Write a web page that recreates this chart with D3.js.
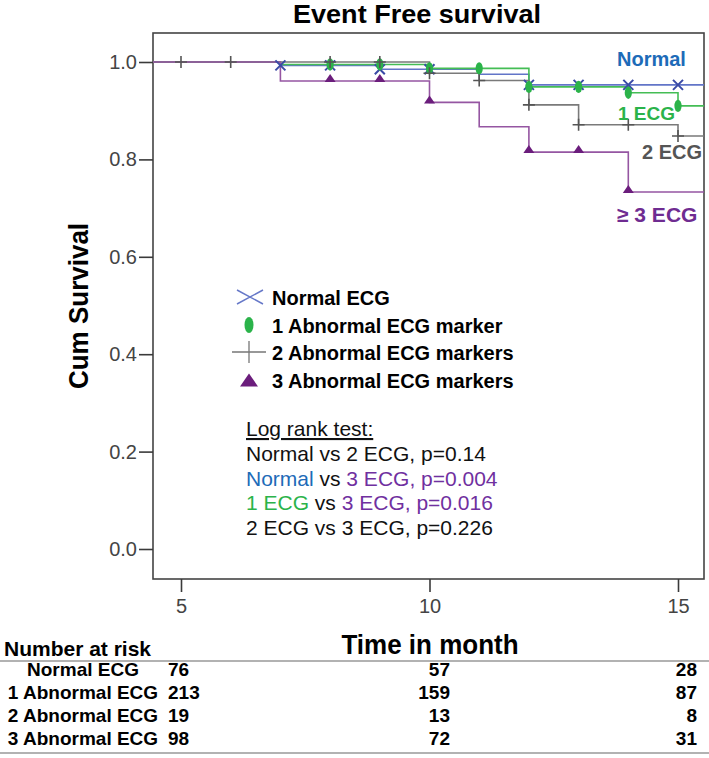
<!DOCTYPE html>
<html><head><meta charset="utf-8">
<script src="https://cdn.jsdelivr.net/npm/d3@7"></script>
<style>body{margin:0;background:#fff} text{font-family:"Liberation Sans",Arial,sans-serif}</style>
</head><body><svg id="c" width="709" height="758"></svg>
<script>
// ---------- data ----------
const groupNames = ["Normal ECG","1 Abnormal ECG marker","2 Abnormal ECG markers","3 Abnormal ECG markers"];
const endLabels = ["Normal","1 ECG","2 ECG","\u2265 3 ECG"];
const normalTimes = [0,7,9,11,12];
const normalSurv  = [1,0.993,0.985,0.975,0.953];
const normalCensor = [7,8,9,10,12,13,14,15];
const ecg1Times = [0,7,10,12,14,15];
const ecg1Surv  = [1,0.995,0.987,0.949,0.937,0.910];
const ecg1Censor = [8,9,10,11,12,13,14,15];
const ecg2Times = [0,10,11,12,13,15];
const ecg2Surv  = [1,0.977,0.962,0.912,0.871,0.848];
const ecg2Censor = [5,6,8,9,10,11,12,13,14,15];
const ecg3Times = [0,7,10,11,12,14];
const ecg3Surv  = [1,0.961,0.917,0.867,0.815,0.733];
const ecg3Censor = [8,9,10,12,13,14];
const yTicks = [0,0.2,0.4,0.6,0.8,1.0];
const xTicks = [5,10,15];
const riskRows = ["Normal ECG","1 Abnormal ECG","2 Abnormal ECG","3 Abnormal ECG"];
const riskAt5  = [76,213,19,98];
const riskAt10 = [57,159,13,72];
const riskAt15 = [28,87,8,31];
const logRankTitle = "Log rank test:";
const logRankLines = [
  [["Normal vs 2 ECG, p=0.14","k"]],
  [["Normal","b"],[" vs ","k"],["3 ECG, p=0.004","p"]],
  [["1 ECG","g"],[" vs ","k"],["3 ECG, p=0.016","p"]],
  [["2 ECG vs 3 ECG, p=0.226","k"]]
];

// ---------- setup ----------
const svg = d3.select("#c");
const x = d3.scaleLinear().domain([5,15]).range([181,678]);
const y = d3.scaleLinear().domain([0,1]).range([549,62]);
const frame = {l:153, t:33, r:704, b:579};
const F = '"Liberation Sans",Arial,sans-serif';

// make bold text taller but keep its width (narrow look of the original)
function condense(sel, factor){
  sel.each(function(){
    const len = this.getComputedTextLength();
    const fs = parseFloat(this.getAttribute("font-size"));
    this.setAttribute("font-size", fs*factor);
    this.setAttribute("textLength", len);
    this.setAttribute("lengthAdjust","spacingAndGlyphs");
  });
}

const series = [
  {times:normalTimes, surv:normalSurv, cens:normalCensor, line:"#6275c8", mark:"#3a4aa6", sym:"x"},
  {times:ecg1Times, surv:ecg1Surv, cens:ecg1Censor, line:"#44bd55", mark:"#2bb34a", sym:"o"},
  {times:ecg2Times, surv:ecg2Surv, cens:ecg2Censor, line:"#7a7a7a", mark:"#555555", sym:"+"},
  {times:ecg3Times, surv:ecg3Surv, cens:ecg3Censor, line:"#9556a2", mark:"#6b1d7c", sym:"t"}
];
const labelColors = ["#1d6bb8","#2bb34a","#555555","#6f2c91"];

// title
svg.append("text").attr("x",293).attr("y",23)
  .attr("font-size",26).attr("font-weight","bold").attr("textLength",248).attr("lengthAdjust","spacingAndGlyphs")
  .text("Event Free survival");

// frame
svg.append("rect").attr("x",frame.l).attr("y",frame.t)
  .attr("width",frame.r-frame.l).attr("height",frame.b-frame.t)
  .attr("fill","none").attr("stroke","#444").attr("stroke-width",1.6);

// y axis
const yAxis = svg.append("g").attr("transform",`translate(${frame.l},0)`)
  .call(d3.axisLeft(y).tickValues(yTicks).tickFormat(d3.format(".1f")).tickSize(14).tickPadding(2));
yAxis.select(".domain").remove();
yAxis.selectAll("line").attr("stroke","#3a3a3a").attr("stroke-width",1.6);
yAxis.selectAll("text").attr("font-size",20).attr("fill","#444").attr("font-family",F);

// x axis
const xAxis = svg.append("g").attr("transform",`translate(0,${frame.b})`)
  .call(d3.axisBottom(x).tickValues(xTicks).tickSize(13).tickPadding(7));
xAxis.select(".domain").remove();
xAxis.selectAll("line").attr("stroke","#3a3a3a").attr("stroke-width",1.6);
xAxis.selectAll("text").attr("font-size",20).attr("fill","#444").attr("font-family",F);

// axis titles
condense(svg.append("text").attr("transform","translate(88,306) rotate(-90)").attr("text-anchor","middle")
  .attr("font-size",26).attr("font-weight","bold").text("Cum Survival"), 1.05);
condense(svg.append("text").attr("x",430).attr("y",654).attr("text-anchor","middle")
  .attr("font-size",26).attr("font-weight","bold").text("Time in month"), 1.08);

// clip
svg.append("clipPath").attr("id","clip").append("rect")
  .attr("x",frame.l).attr("y",frame.t).attr("width",frame.r-frame.l).attr("height",frame.b-frame.t);
const plot = svg.append("g").attr("clip-path","url(#clip)");

function stepPts(s){
  const pts = s.times.map((t,i)=>[t,s.surv[i]]);
  pts.push([16, s.surv[s.surv.length-1]]);
  return pts;
}
function survAt(s,t){
  let v = 1;
  s.times.forEach((tt,i)=>{ if(tt<=t) v = s.surv[i]; });
  return v;
}
const line = d3.line().x(d=>x(d[0])).y(d=>y(d[1])).curve(d3.curveStepAfter);
series.forEach(s=>{
  plot.append("path").datum(stepPts(s)).attr("d",line)
    .attr("fill","none").attr("stroke",s.line).attr("stroke-width",1.6);
});

function drawSym(g, sym, cx, cy, color, big){
  if(sym==="x"){
    const w = big?13:5, h = big?7:5;
    g.append("path").attr("d",`M${cx-w},${cy-h}L${cx+w},${cy+h}M${cx-w},${cy+h}L${cx+w},${cy-h}`)
      .attr("stroke",color).attr("stroke-width",big?1.5:2).attr("fill","none");
  } else if(sym==="o"){
    g.append("ellipse").attr("cx",cx).attr("cy",cy).attr("rx",big?4.5:3.6).attr("ry",big?8:6.2).attr("fill",color);
  } else if(sym==="+"){
    const w = big?17:6, h = big?11:6;
    g.append("path").attr("d",`M${cx-w},${cy}L${cx+w},${cy}M${cx},${cy-h}L${cx},${cy+h}`)
      .attr("stroke",color).attr("stroke-width",big?1.3:1.6).attr("fill","none");
  } else {
    const w = big?9:5.5, h = big?13:8;
    g.append("path").attr("d",`M${cx-w},${cy+h/2}L${cx+w},${cy+h/2}L${cx},${cy-h/2}Z`).attr("fill",color);
  }
}
// censor marks
series.forEach(s=>{
  s.cens.forEach(t=>{
    const v = survAt(s,t);
    if(s.sym==="t") drawSym(plot,"t",x(t),y(v)-3,s.mark,false);
    else drawSym(plot,s.sym,x(t),y(v),s.mark,false);
  });
});

// end labels
const endPos = [[617,66,20],[618,120,19],[642,159,20],[617,222,21]];
endLabels.forEach((t,i)=>{
  svg.append("text").attr("x",endPos[i][0]).attr("y",endPos[i][1]).attr("font-size",endPos[i][2])
    .attr("font-weight","bold").attr("fill",labelColors[i]).text(t);
});

// legend
const legY = [305,333,360,388];
const legCol = ["#6678c8","#2bb34a","#777777","#6b1d7c"];
groupNames.forEach((n,i)=>{
  const cy = legY[i]-8;
  drawSym(svg, series[i].sym, i===0?250:249, cy, legCol[i], true);
  svg.append("text").attr("x",272).attr("y",legY[i]).attr("font-size",20).attr("font-weight","bold").text(n);
});

// log rank
const lrCol = {k:"#111",b:"#1d6bb8",g:"#2bb34a",p:"#7030a0"};
svg.append("text").attr("x",246).attr("y",436).attr("font-size",21).attr("text-decoration","underline").attr("fill","#111").text(logRankTitle);
logRankLines.forEach((parts,i)=>{
  const t = svg.append("text").attr("x",246).attr("y",461+i*24.5).attr("font-size",21).attr("xml:space","preserve");
  parts.forEach(p=>t.append("tspan").attr("fill",lrCol[p[1]]).text(p[0]));
});

// number at risk table
svg.append("text").attr("x",4).attr("y",656).attr("font-size",21).attr("font-weight","bold").text("Number at risk");
svg.append("line").attr("x1",0).attr("x2",709).attr("y1",661).attr("y2",661).attr("stroke","#999").attr("stroke-width",1.5);
svg.append("line").attr("x1",0).attr("x2",709).attr("y1",753).attr("y2",753).attr("stroke","#999").attr("stroke-width",1.5);
riskRows.forEach((r,i)=>{
  const yy = 676+i*23;
  const cells = [
    svg.append("text").attr("x",83).attr("y",yy).attr("text-anchor","middle").text(r),
    svg.append("text").attr("x",168).attr("y",yy).text(riskAt5[i]),
    svg.append("text").attr("x",450).attr("y",yy).attr("text-anchor","end").text(riskAt10[i]),
    svg.append("text").attr("x",697).attr("y",yy).attr("text-anchor","end").text(riskAt15[i])
  ];
  cells.forEach(c=>c.attr("font-size",19).attr("font-weight","bold"));
});
</script></body></html>
